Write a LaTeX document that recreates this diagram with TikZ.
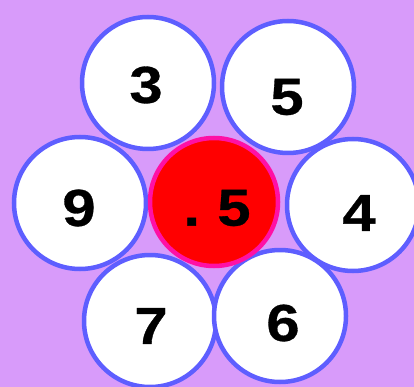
\documentclass[tikz,border=0pt]{standalone}
\usepackage{fontspec}
\newfontfamily\digfont[FakeStretch=1.15,FakeBold=0.6]{Liberation Sans Bold}
\definecolor{bgpurple}{HTML}{D89BFA}
\definecolor{ringblue}{HTML}{5E5EFF}
\definecolor{ringpink}{HTML}{FF10A5}
\definecolor{centerred}{HTML}{FF0000}
\begin{document}
\begin{tikzpicture}[x=1pt,y=-1pt,
  petal/.style={circle,fill=white,draw=ringblue,line width=4.5pt,minimum size=132pt,inner sep=0pt},
  core/.style={circle,fill=centerred,draw=ringpink,line width=4.5pt,minimum size=128pt,inner sep=0pt},
  digit/.style={inner sep=0pt,font=\digfont\fontsize{52}{52}\selectfont,text=black}]
\useasboundingbox (0,0) rectangle (414,387);
\fill[bgpurple] (0,0) rectangle (414,387);
\node[petal] (c3) at (148,83) {};
\node[petal] (c5) at (288,87) {};
\node[petal] (c9) at (80,203) {};
\node[petal] (c4) at (353,205) {};
\node[petal] (c7) at (150,321) {};
\node[petal] (c6) at (280,316) {};
\node[core] (cc) at (214,202) {};
\node[digit] (t3) at (146,85) {3};
\node[digit] (t5) at (287,97) {5};
\node[digit] (t9) at (79,208) {9};
\node[digit] (t4) at (359,213) {4};
\node[digit] (t7) at (151,326) {7};
\node[digit] (t6) at (283,323) {6};
\node[digit] (tc) at (217,208) {.\,\,5};
\end{tikzpicture}
\end{document}
